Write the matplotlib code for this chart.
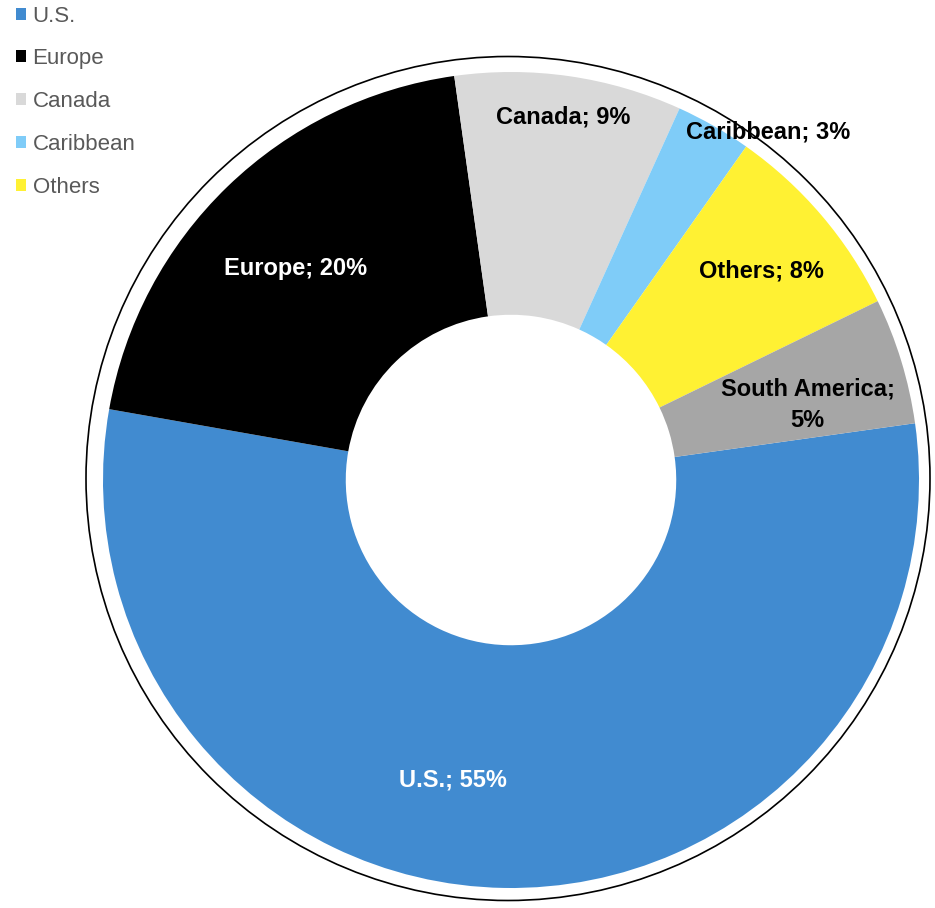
import numpy as np
import matplotlib
matplotlib.use("Agg")
import matplotlib.pyplot as plt
from matplotlib.patches import Circle

plt.rcParams["font.family"] = ["Liberation Sans", "DejaVu Sans"]

REGIONS = ["U.S.", "Europe", "Canada", "Caribbean", "Others", "South America"]
SHARES = [55, 20, 9, 3, 8, 5]
COLORS = ["#418BD0", "#000000", "#D9D9D9", "#7FCCF8", "#FFF133", "#A6A6A6"]
LABEL_TEXT = ["U.S.; 55%", "Europe; 20%", "Canada; 9%", "Caribbean; 3%",
              "Others; 8%", "South America;\n5%"]
LABEL_COLORS = ["white", "white", "black", "black", "black", "black"]
# (angle offset from wedge middle in degrees, radius) for each data label
LABEL_LAYOUT = [(-10, 0.75), (1.5, 0.74), (0, 0.90), (-6.6, 1.06), (-0.6, 0.80), (-2.8, 0.75)]

R_PX = 408.0  # wedge radius in pixels
CX, CY = 511.0, 480.0
W, H = 935, 908

fig = plt.figure(figsize=(W / 100, H / 100), dpi=100)
ax = fig.add_axes([0, 0, 1, 1])

wedges, _ = ax.pie(SHARES, colors=COLORS, startangle=8, counterclock=False,
                   radius=1.0, wedgeprops=dict(width=0.595, linewidth=0))

for w, txt, col, (da, r) in zip(wedges, LABEL_TEXT, LABEL_COLORS, LABEL_LAYOUT):
    mid = np.deg2rad((w.theta1 + w.theta2) / 2 + da)
    ax.text(r * np.cos(mid), r * np.sin(mid), txt, ha="center", va="center",
            fontsize=17, fontweight="bold", color=col, linespacing=1.45)

# thin outline ring around the doughnut
ax.add_patch(Circle((-3 / R_PX, 1.5 / R_PX), 422 / R_PX, fill=False,
                    edgecolor="black", linewidth=1.2))

ax.set_xlim(-CX / R_PX, (W - CX) / R_PX)
ax.set_ylim(-(H - CY) / R_PX, CY / R_PX)
ax.set_aspect("auto")
ax.axis("off")

leg = ax.legend(wedges[:5], REGIONS[:5], loc="upper left", bbox_to_anchor=(0.011, 1.0),
                frameon=False, fontsize=16, handlelength=0.45, handleheight=0.45,
                handletextpad=0.3, labelspacing=0.98, borderaxespad=0.0, borderpad=0.25)
for t in leg.get_texts():
    t.set_color("#595959")

fig.savefig("out.png", dpi=100)
